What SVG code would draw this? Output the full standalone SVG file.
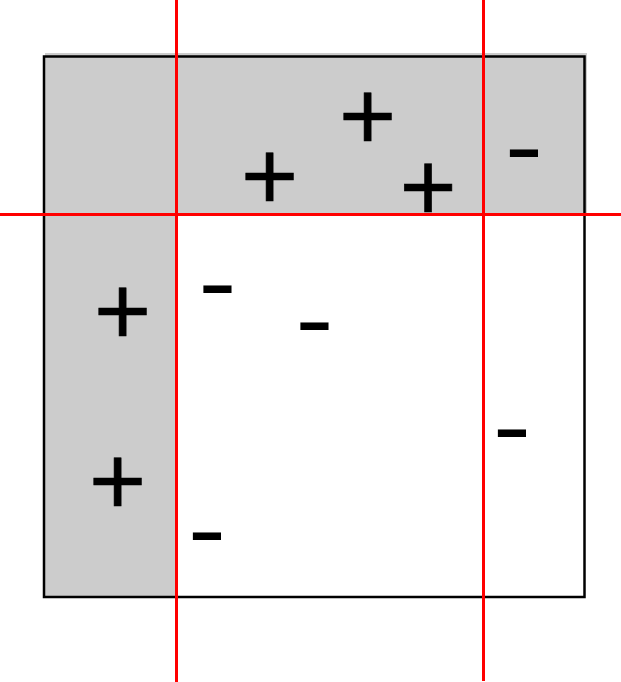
<svg xmlns="http://www.w3.org/2000/svg" width="621" height="682" viewBox="0 0 621 682">
  <style>
    .shade { fill: #cccccc; stroke: none; }
    .frame { fill: none; stroke: #000000; stroke-width: 2.5; }
    .red { stroke: #ff0000; stroke-width: 3; fill: none; }
    .plus { font-family: "Liberation Sans", Arial, sans-serif; font-size: 98px; text-anchor: middle; fill: #000000; stroke: #000000; stroke-width: 0.6; }
    .minus { font-family: "Liberation Sans", Arial, sans-serif; font-size: 96px; text-anchor: middle; fill: #000000; }
  </style>
  <rect width="621" height="682" fill="#ffffff"/>
  <g id="region">
    <polygon class="shade" points="45,53 587,53 587,214 177,214 177,596 45,596"/>
    <rect class="frame" x="44" y="56.5" width="540.5" height="540.5"/>
  </g>
  <g id="connectors">
    <line class="red" x1="176.5" y1="0" x2="176.5" y2="682"/>
    <line class="red" x1="483.5" y1="0" x2="483.5" y2="681"/>
    <line class="red" x1="0" y1="214.5" x2="621" y2="214.5"/>
  </g>
  <g id="signs">
    <text class="plus" x="367.5" y="149.7">+</text>
    <text class="plus" x="428" y="220.7">+</text>
    <text class="plus" x="269.5" y="210.2">+</text>
    <text class="plus" x="122.5" y="345.2">+</text>
    <text class="plus" x="117.5" y="514.7">+</text>
    <text class="minus" x="524" y="178.8" textLength="38.4" lengthAdjust="spacingAndGlyphs">-</text>
    <text class="minus" x="217.5" y="314.8" textLength="38.4" lengthAdjust="spacingAndGlyphs">-</text>
    <text class="minus" x="314.5" y="351.8" textLength="38.4" lengthAdjust="spacingAndGlyphs">-</text>
    <text class="minus" x="207" y="561.8" textLength="38.4" lengthAdjust="spacingAndGlyphs">-</text>
    <text class="minus" x="512" y="459.3" textLength="38.4" lengthAdjust="spacingAndGlyphs">-</text>
  </g>
</svg>
